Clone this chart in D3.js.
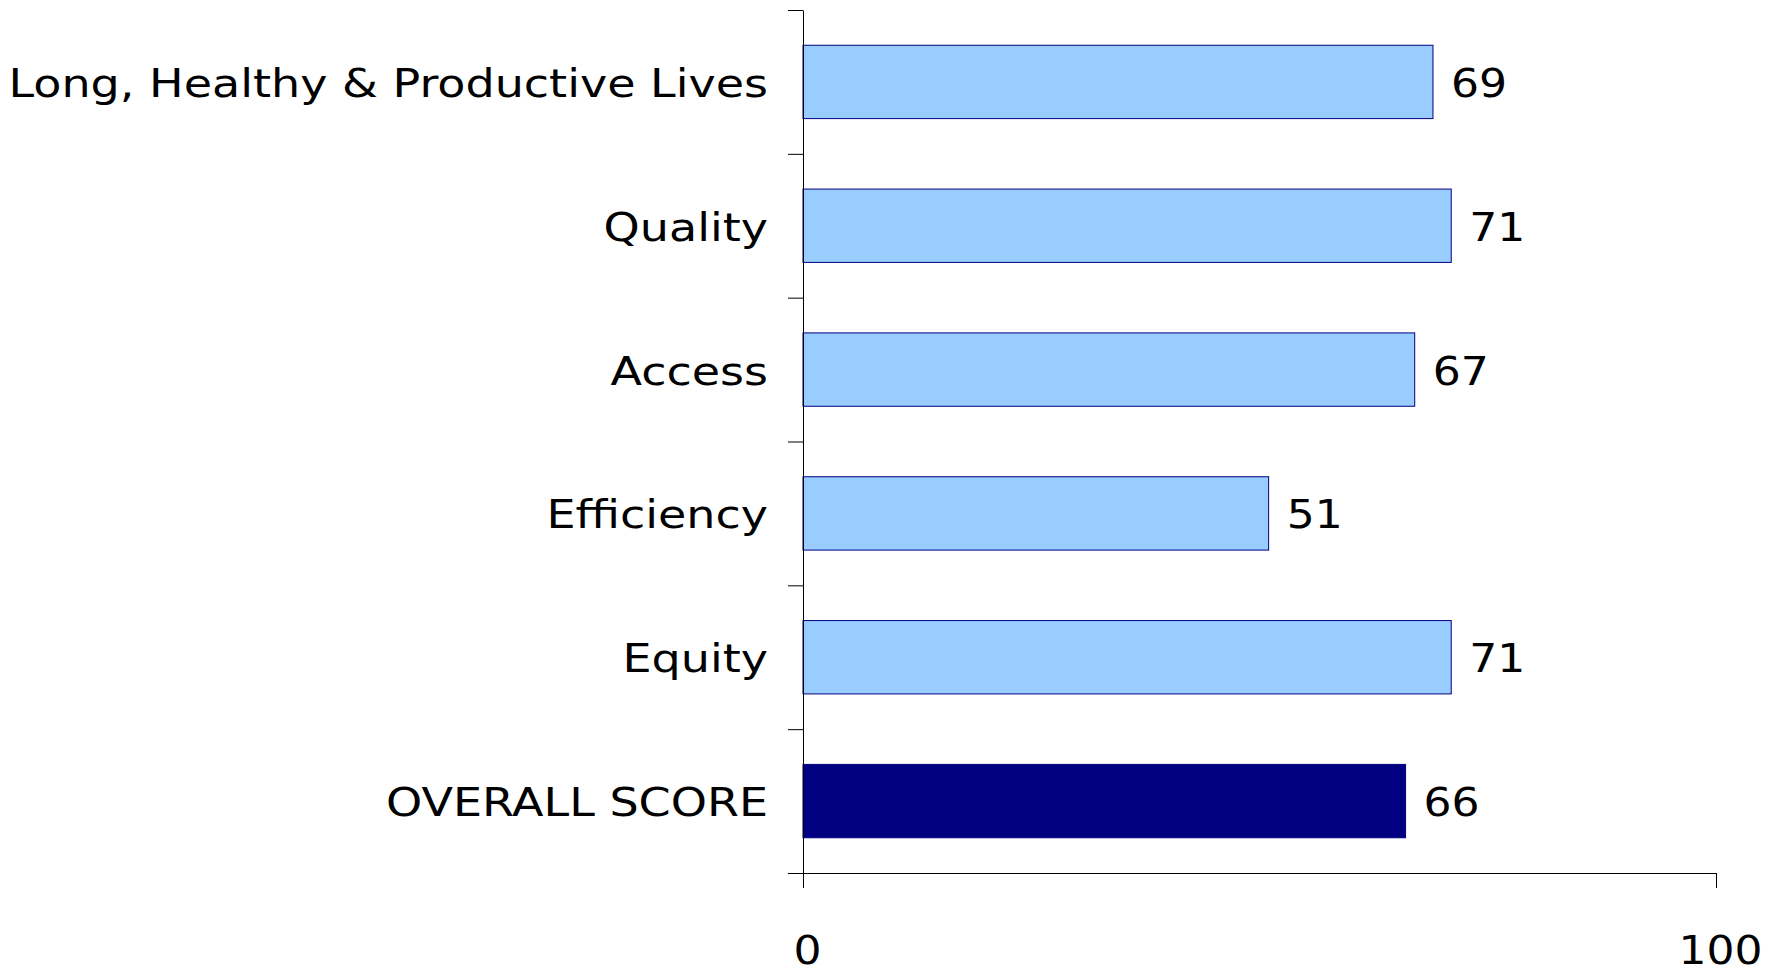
<!DOCTYPE html>
<html>
<head>
<meta charset="utf-8">
<script src="https://cdn.jsdelivr.net/npm/d3@7"></script>
<style>
  html, body { margin: 0; padding: 0; background: #fff; }
  svg { display: block; }
  text { font-family: "DejaVu Sans", Verdana, sans-serif; fill: #000; }
</style>
</head>
<body>
<svg id="chart" width="1780" height="968"></svg>
<script>
const categories = ["Long, Healthy & Productive Lives", "Quality", "Access", "Efficiency", "Equity", "OVERALL SCORE"];
const values = [69, 71, 67, 51, 71, 66];
const highlight = [false, false, false, false, false, true];
const xTicks = [0, 100];
const xDomain = [0, 100];

const svg = d3.select("#chart");
const plotLeft = 803, plotRight = 1716, plotTop = 10, plotBottom = 873;
const fontSize = 39;
const stretch = 1.18;
const numStretch = 1.13;

const x = d3.scaleLinear().domain(xDomain).range([plotLeft, plotRight]);
const y = d3.scaleBand().domain(categories).range([plotTop, plotBottom]).paddingInner(0.49).paddingOuter(0.245);

// bars
svg.append("g").selectAll("rect").data(categories).join("rect")
  .attr("x", x(0))
  .attr("y", d => y(d))
  .attr("width", (d, i) => x(values[i]) - x(0))
  .attr("height", y.bandwidth())
  .attr("fill", (d, i) => highlight[i] ? "#000080" : "#99CCFF")
  .attr("stroke", "#000080")
  .attr("stroke-width", 1);

// y axis with ticks at band boundaries
const yb = d3.scaleLinear().domain([0, categories.length]).range([plotTop, plotBottom]);
const yAxis = svg.append("g").attr("transform", `translate(${plotLeft},0)`)
  .call(d3.axisLeft(yb).ticks(categories.length).tickFormat("").tickSize(15).tickSizeOuter(0));
yAxis.select(".domain").attr("stroke", "#000");
yAxis.selectAll("line").attr("stroke", "#000");

// x axis
const xAxis = svg.append("g").attr("transform", `translate(0,${plotBottom})`)
  .call(d3.axisBottom(x).tickValues(xTicks).tickSize(15).tickSizeOuter(0).tickPadding(48));
xAxis.select(".domain").attr("stroke", "#000");
xAxis.selectAll("line").attr("stroke", "#000");
xAxis.selectAll(".tick text")
  .attr("font-size", fontSize)
  .attr("font-family", "'DejaVu Sans', Verdana, sans-serif")
  .attr("fill", "#000")
  .attr("transform", `translate(4,0) scale(${numStretch},1)`);

// category labels
svg.append("g").selectAll("text").data(categories).join("text")
  .attr("transform", d => `translate(768,${y(d) + y.bandwidth() / 2 + 15}) scale(${stretch},1)`)
  .attr("text-anchor", "end")
  .attr("font-size", fontSize)
  .text(d => d);

// value labels
svg.append("g").selectAll("text").data(categories).join("text")
  .attr("transform", (d, i) => `translate(${x(values[i]) + 18},${y(d) + y.bandwidth() / 2 + 15}) scale(${numStretch},1)`)
  .attr("text-anchor", "start")
  .attr("font-size", fontSize)
  .text((d, i) => values[i]);
</script>
</body>
</html>
